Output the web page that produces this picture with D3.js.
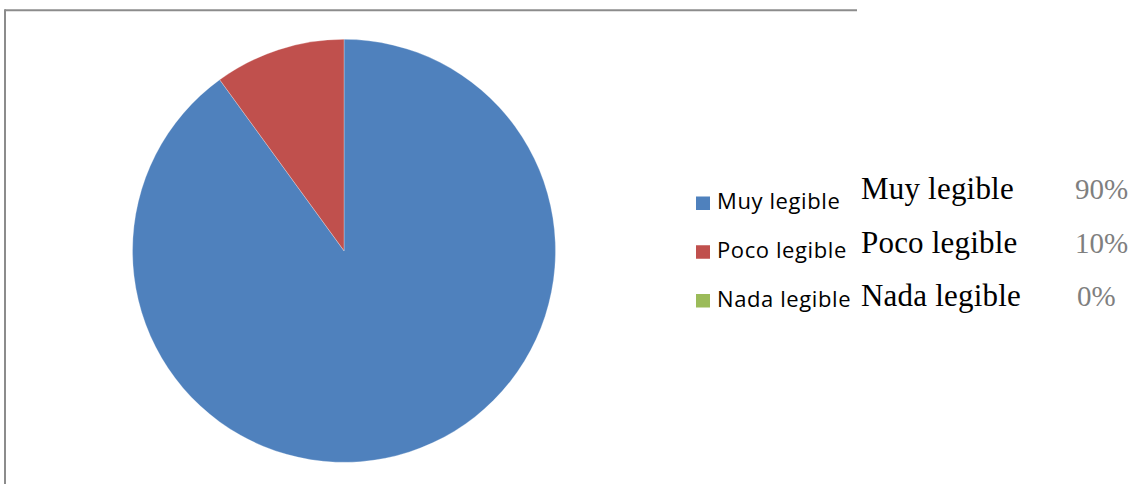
<!DOCTYPE html>
<html>
<head>
<meta charset="utf-8">
<script src="https://cdn.jsdelivr.net/npm/d3@7"></script>
<style>
  html, body { margin: 0; padding: 0; background: #fff; }
  svg { display: block; }
</style>
</head>
<body>
<svg id="chart" width="1134" height="484"></svg>
<script>
const categories = ["Muy legible", "Poco legible", "Nada legible"];
const values = [90, 10, 0];
const valueLabels = ["90%", "10%", "0%"];
const colors = ["#4F81BD", "#C0504D", "#9BBB59"];

const svg = d3.select("#chart");
const W = 1134, H = 484;

// frame (top and left borders)
svg.append("line").attr("x1", 5).attr("y1", 10.3).attr("x2", 857).attr("y2", 10.3)
  .attr("stroke", "#8c8c8c").attr("stroke-width", 2);
svg.append("line").attr("x1", 5).attr("y1", 9.3).attr("x2", 5).attr("y2", H)
  .attr("stroke", "#8c8c8c").attr("stroke-width", 2);

const color = d3.scaleOrdinal().domain(categories).range(colors);

const cx = 344, cy = 250.8, r = 211.5;
const pie = d3.pie().sort(null).value(d => d.value);
const arc = d3.arc().innerRadius(0).outerRadius(r);
const data = categories.map((c, i) => ({ cat: c, value: values[i] }));

const g = svg.append("g").attr("transform", `translate(${cx},${cy})`);
g.selectAll("path").data(pie(data).filter(d => d.data.value > 0)).join("path")
  .attr("d", arc)
  .attr("fill", d => color(d.data.cat))
  .attr("stroke", "rgba(255,255,255,0.35)")
  .attr("stroke-width", 0.8);

// legend
const legY = d3.scalePoint().domain(categories).range([209, 306.5]);
const leg = svg.append("g");
leg.selectAll("rect").data(categories).join("rect")
  .attr("x", 696).attr("y", d => legY(d) - 12.5)
  .attr("width", 14).attr("height", 13.5)
  .attr("fill", d => color(d));
leg.selectAll("text").data(categories).join("text")
  .attr("x", 717).attr("y", d => legY(d))
  .attr("font-family", "'Open Sans', sans-serif")
  .attr("font-size", 22)
  .attr("letter-spacing", 0.6)
  .attr("fill", "#000")
  .text(d => d);

// table text on right
const tabY = d3.scalePoint().domain(categories).range([199, 306]);
const tab = svg.append("g");
tab.selectAll("text.cat").data(categories).join("text")
  .attr("class", "cat")
  .attr("x", 861).attr("y", d => tabY(d))
  .attr("font-family", "'Liberation Serif', 'Times New Roman', serif")
  .attr("font-size", 31)
  .attr("letter-spacing", 0.2)
  .attr("fill", "#000")
  .text(d => d);
tab.selectAll("text.val").data(categories).join("text")
  .attr("class", "val")
  .attr("x", (d, i) => i === 2 ? 1077 : 1075).attr("y", d => tabY(d))
  .attr("font-family", "'Liberation Serif', 'Times New Roman', serif")
  .attr("font-size", 29)
  .attr("fill", "#7f7f7f")
  .text((d, i) => valueLabels[i]);
</script>
</body>
</html>
